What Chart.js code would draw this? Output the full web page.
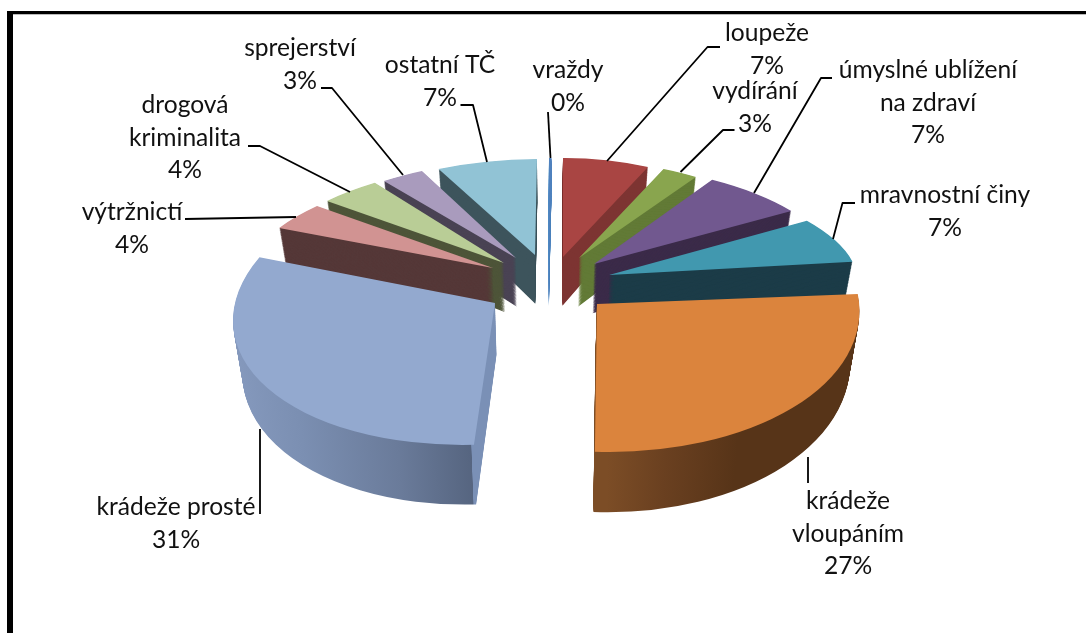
<!DOCTYPE html>
<html lang="cs">
<head>
  <meta charset="UTF-8" />
  <title>Struktura trestné činnosti</title>
  <script src="https://cdn.jsdelivr.net/npm/chart.js"></script>
  <style>
    html, body { margin: 0; padding: 0; background: #fff; overflow: hidden; }
    #frameTop { position: absolute; left: 7px; right: 0; top: 11px; height: 3px; background: #000; border-bottom: 1px solid #bbb; }
    #frameLeft { position: absolute; left: 7px; top: 11px; bottom: 0; width: 6px; background: #000; }
    #pie { position: absolute; left: 0; top: 0; }
  </style>
</head>
<body>
  <canvas id="pie" width="1086" height="633"></canvas>
  <div id="frameTop"></div>
  <div id="frameLeft"></div>

  <script>
    // Data
    const categories = ['vraždy', 'loupeže', 'vydírání', 'úmyslné ublížení na zdraví', 'mravnostní činy',
      'krádeže vloupáním', 'krádeže prosté', 'výtržnictí', 'drogová kriminalita', 'sprejerství', 'ostatní TČ'];
    const values = [0.2, 7, 3, 7, 7, 27, 31, 4, 4, 3, 7];
    const topColors = ['#4f81bd', '#a94543', '#89a54e', '#71588f', '#4198af', '#db843d', '#93a9cf', '#d19392', '#b9cd96', '#a99bbd', '#91c3d5'];
    const wallColors = ['#4f81bd', '#7d3432', '#627a36', '#3b2b49', '#1c3c48', '#573418', '#7a90b6', '#553838', '#4e5539', '#4a4354', '#3d545c'];

    // Layout of the exploded 3D look (not data)
    const R_DEPTH = { base: 33.9, grow: 0.058, shrink: 0.03, midX: 545, layers: 60 };
    // slice map: dx, dy from pie centre, then a b c d in px per unit radius
    const sliceMap = [
      [6, -58.5, 200, 0, 0, 100],
      [20, -59.5, 200, -2, 2.5, 99],
      [36, -58.5, 200, -8, 3, 95],
      [51, -52.5, 241, -6.6, 32, 100],
      [66, -41.5, 246, -8, 40, 100],
      [54, -12.5, 262, -2, 16, 148],
      [-48, -13.5, 262, -16, -3, 141],
      [-50, -48.5, 247, -4, -22, 102],
      [-39, -53.5, 245, -4, -18, 102],
      [-27, -58.5, 232, -4, -5, 98],
      [-8, -61.5, 231, -2, -2, 96]
    ];
    // back to front
    const drawOrder = [0, 1, 10, 2, 9, 3, 8, 4, 7, 5, 6];
    // rim shading along screen x
    const rimStops = {
      5: [[592, '#7c4d26'], [650, '#6a4020'], [725, '#573418'], [865, '#573418']],
      6: [[230, '#8599bd'], [300, '#7b8fb2'], [400, '#6a7b9a'], [474, '#566580'], [474.5, '#7a90b6'], [500, '#7a90b6']]
    };
    const labelLines = [['vraždy'], ['loupeže'], ['vydírání'], ['úmyslné ublížení', 'na zdraví'], ['mravnostní činy'],
      ['krádeže', 'vloupáním'], ['krádeže prosté'], ['výtržnictí'], ['drogová', 'kriminalita'], ['sprejerství'], ['ostatní TČ']];
    const labelPos = [[568, 70], [767, 33], [755, 91], [928, 70], [945, 195], [848, 501], [176, 507], [132, 212], [185, 105], [300, 48], [440, 65]];
    const leaders = [
      [[548, 112], [550.5, 158]],
      [[720, 47], [707.5, 47], [607, 161]],
      [[734.5, 130], [723, 130], [680.5, 172]],
      [[832, 78], [821, 78], [754, 193]],
      [[855, 203], [842.5, 203], [833, 239]],
      [[808, 457], [808, 483]],
      [[260, 429], [260, 514]],
      [[185, 219], [296, 217]],
      [[248, 146], [260, 146], [350, 192]],
      [[321, 88], [332, 88], [403, 175]],
      [[460.5, 105], [473, 105], [487, 162]]
    ];

    // Draws one arc element through the slice map, with the layer offset for depth t (0 = top face)
    function drawSlice(ctx, arc, i, t, fill){
      const m = sliceMap[i], r = arc.outerRadius, orig = arc.options.backgroundColor;
      ctx.save();
      if(t > 0){
        const sx = 1 - R_DEPTH.shrink * t, sy = 1 + R_DEPTH.grow * t;
        ctx.transform(sx, 0, 0, sy, R_DEPTH.midX * R_DEPTH.shrink * t, R_DEPTH.base * t);
      }
      ctx.translate(arc.x + m[0], arc.y + m[1]);
      ctx.transform(m[2] / r, m[3] / r, m[4] / r, m[5] / r, 0, 0);
      ctx.translate(-arc.x, -arc.y);
      arc.options.backgroundColor = fill;
      arc.draw(ctx);
      arc.options.backgroundColor = orig;
      ctx.restore();
    }

    function wallFill(ctx, arc, i){
      const stops = rimStops[i];
      if(!stops) return wallColors[i];
      const m = sliceMap[i], apexX = arc.x + m[0], k = arc.outerRadius / m[2];
      const x0 = stops[0][0], x1 = stops[stops.length - 1][0];
      const g = ctx.createLinearGradient(arc.x + (x0 - apexX) * k, 0, arc.x + (x1 - apexX) * k, 0);
      stops.forEach(s => g.addColorStop((s[0] - x0) / (x1 - x0), s[1]));
      return g;
    }

    const pie3d = {
      id: 'pie3d',
      beforeDatasetDraw(chart, args){
        const ctx = chart.ctx, arcs = args.meta.data;
        drawOrder.forEach(i => {
          const fill = wallFill(ctx, arcs[i], i);
          for(let l = R_DEPTH.layers; l > 0; l--) drawSlice(ctx, arcs[i], i, l / R_DEPTH.layers, fill);
          drawSlice(ctx, arcs[i], i, 0, topColors[i]);
        });
        return false;
      },
      afterDraw(chart){
        const ctx = chart.ctx;
        ctx.save();
        // leader lines
        ctx.strokeStyle = '#000'; ctx.lineWidth = 1.8; ctx.lineJoin = 'round';
        leaders.forEach(pts => {
          ctx.beginPath();
          pts.forEach((p, n) => n ? ctx.lineTo(p[0], p[1]) : ctx.moveTo(p[0], p[1]));
          ctx.stroke();
        });
        // labels
        ctx.fillStyle = '#111'; ctx.font = '24.6px Lato'; ctx.textAlign = 'center'; ctx.textBaseline = 'middle';
        labelLines.forEach((lines, i) => {
          const all = lines.concat(Math.round(values[i]) + '%');
          all.forEach((txt, n) => ctx.fillText(txt, labelPos[i][0], labelPos[i][1] + n * 32.6));
        });
        ctx.restore();
      }
    };

    new Chart(document.getElementById('pie'), {
      type: 'pie',
      data: { labels: categories, datasets: [{ data: values, backgroundColor: topColors, borderWidth: 0 }] },
      options: {
        responsive: false,
        animation: false,
        radius: 100,
        plugins: { legend: { display: false }, tooltip: { enabled: false } }
      },
      plugins: [pie3d]
    });
  </script>
</body>
</html>
